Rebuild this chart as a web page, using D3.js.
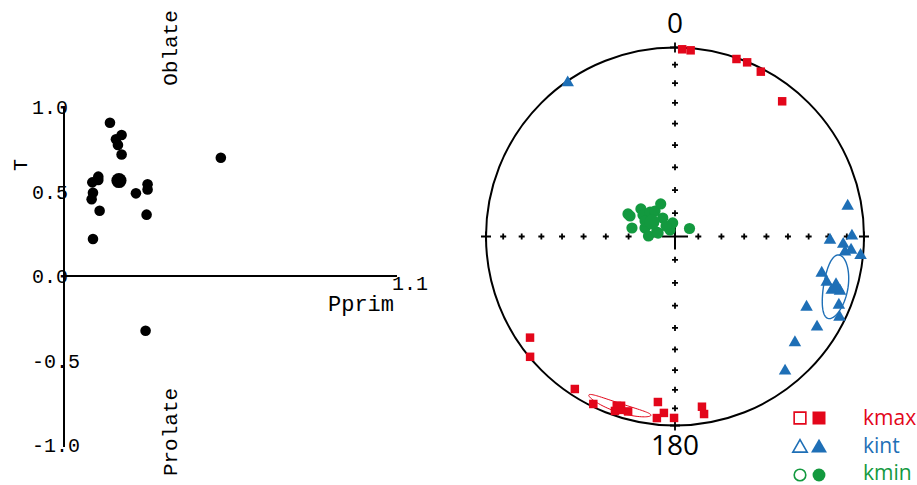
<!DOCTYPE html>
<html>
<head>
<meta charset="utf-8">
<script src="https://cdn.jsdelivr.net/npm/d3@7"></script>
<style>
  body { margin: 0; background: #fff; }
</style>
</head>
<body>
<div id="chart"></div>
<script>
// ---- datos: diagrama de Jelinek (Pprim - T) ----
var pprim  = [1.0138, 1.0156, 1.0173, 1.0162, 1.0173, 1.0471, 1.0085, 1.0103, 1.0103,
              1.0087, 1.0083, 1.0216, 1.0251, 1.0251, 1.0107, 1.0248, 1.0087, 1.0245];
var tShape = [0.907, 0.809, 0.834, 0.775, 0.719, 0.700, 0.554, 0.588, 0.568,
              0.493, 0.454, 0.489, 0.543, 0.512, 0.386, 0.363, 0.219, -0.324];
var pprimMean = 1.0165, tMean = 0.565;
var tTicks = [1.0, 0.5, 0.0, -0.5, -1.0];
var tTickLabels = ["1.0", "0.5", "0.0", "-0.5", "-1.0"];

// ---- datos: estereograma (declinacion / inclinacion, hemisferio inferior) ----
var kmaxDec = [2.2, 4.8, 19.1, 22.5, 27.5, 38.4, 235.1, 230.3, 213.3, 206.0,
               198.9, 199.0, 195.0, 185.9, 183.6, 185.7, 180.3, 171.0, 170.7];
var kmaxInc = [1.0, 1.3, 0.7, 0.3, 1.9, 9.6, 7.2, 0.4, 3.9, 1.6,
               5.9, 2.7, 4.7, 13.0, 7.2, 3.9, 4.5, 9.7, 5.4];
var kintDec = [325.1, 80.0, 91.3, 92.6, 89.8, 95.2, 94.4, 95.8, 104.0, 106.7,
               108.9, 108.3, 112.7, 116.1, 118.2, 122.5, 131.5, 140.7];
var kintInc = [0.9, 8.0, 19.1, 11.9, 7.1, 10.6, 7.3, 1.5, 21.1, 17.3,
               13.4, 8.9, 6.7, 3.5, 22.1, 11.9, 16.4, 8.9];
var kminDec = [295.6, 281.2, 309.0, 294.5, 303.9, 314.4, 321.9, 336.3, 326.4, 350.3,
               322.4, 61.1, 285.8, 271.1, 283.8, 303.7, 281.6, 319.4, 297.3];
var kminInc = [67.5, 71.1, 71.1, 68.7, 73.4, 75.0, 76.1, 74.7, 80.5, 84.1,
               86.5, 82.9, 76.6, 78.6, 81.9, 78.8, 82.6, 84.1, 75.5];
// medias y elipses de confianza [dec, inc, semieje mayor, semieje menor, giro] (grados)
var kmaxMean = [198.1, 5.2, 10.4, 2.6, 0];
var kintMean = [107.4, 11.7, 11, 6.6, -18];
var kminMean = [302.2, 78.3];
var netInc = [10, 20, 30, 40, 50, 60, 70, 80];
var netDec = [0, 90, 180, 270];
var legendNames = ["kmax", "kint", "kmin"];

var red = "#e3061a", blue = "#1e6fb6", green = "#13993f";

var svg = d3.select("#chart")
  .append("svg")
    .attr("width", 917)
    .attr("height", 485);

// ================= Diagrama Pprim - T =================
var x = d3.scaleLinear().domain([1.0, 1.1]).range([64, 397]);
var y = d3.scaleLinear().domain([-1, 1]).range([445, 107]);
var mono = "'Liberation Mono', 'DejaVu Sans Mono', monospace";

var left = svg.append("g");

left.append("line")
  .attr("x1", x(1.0)).attr("x2", x(1.0))
  .attr("y1", y(1) - 1).attr("y2", y(-1) + 2)
  .attr("stroke", "black").attr("stroke-width", 2);
left.append("line")
  .attr("x1", x(1.0)).attr("x2", x(1.1))
  .attr("y1", y(0)).attr("y2", y(0))
  .attr("stroke", "black").attr("stroke-width", 2);

left.selectAll(".tlab")
  .data(tTicks)
  .enter()
  .append("text")
    .attr("x", 32)
    .attr("y", function(d) { return y(d) + 7; })
    .style("font-family", mono)
    .style("font-size", "20px")
    .text(function(d, i) { return tTickLabels[i]; });

left.append("text")
  .attr("x", x(1.1) - 5)
  .attr("y", y(0) + 14)
  .style("font-family", mono)
  .style("font-size", "20px")
  .text("1.1");

left.append("text")
  .attr("x", 328)
  .attr("y", 311)
  .style("font-family", mono)
  .style("font-size", "22px")
  .text("Pprim");

left.append("text")
  .attr("transform", "translate(27,165) rotate(-90)")
  .attr("text-anchor", "middle")
  .style("font-family", mono)
  .style("font-size", "20px")
  .text("T");

left.append("text")
  .attr("transform", "translate(177,48) rotate(-90)")
  .attr("text-anchor", "middle")
  .style("font-family", mono)
  .style("font-size", "21px")
  .text("Oblate");

left.append("text")
  .attr("transform", "translate(177,432) rotate(-90)")
  .attr("text-anchor", "middle")
  .style("font-family", mono)
  .style("font-size", "21px")
  .text("Prolate");

left.selectAll(".dot")
  .data(pprim)
  .enter()
  .append("circle")
    .attr("cx", function(d) { return x(d); })
    .attr("cy", function(d, i) { return y(tShape[i]); })
    .attr("r", 5.3)
    .style("fill", "black");

left.append("circle")
  .attr("cx", x(pprimMean))
  .attr("cy", y(tMean))
  .attr("r", 7.6)
  .style("fill", "black");

// ================= Estereograma (igual area) =================
var cx = 675, cy = 236.5, R = 189;
var sx = d3.scaleLinear().domain([-1, 1]).range([cx - R, cx + R]);
var sy = d3.scaleLinear().domain([-1, 1]).range([cy + R, cy - R]);
var rad = Math.PI / 180;

function toVec(dec, inc) {
  return [Math.cos(inc * rad) * Math.cos(dec * rad),
          Math.cos(inc * rad) * Math.sin(dec * rad),
          Math.sin(inc * rad)];
}
// proyeccion de Schmidt, hemisferio inferior
function project(v) {
  if (v[2] < 0) v = v.map(function(c) { return -c; });
  var k = 1 / Math.sqrt(1 + v[2]);
  return [sx(v[1] * k), sy(v[0] * k)];
}
function pos(dec, inc) { return project(toVec(dec, inc)); }

function ellipse(e) {
  var m = toVec(e[0], e[1]);
  var d = e[0] * rad, i = e[1] * rad, g = e[4] * rad;
  var u0 = [-Math.sin(d), Math.cos(d), 0];
  var v0 = [-Math.sin(i) * Math.cos(d), -Math.sin(i) * Math.sin(d), Math.cos(i)];
  var u = u0.map(function(c, k) { return Math.cos(g) * c + Math.sin(g) * v0[k]; });
  var v = v0.map(function(c, k) { return -Math.sin(g) * u0[k] + Math.cos(g) * c; });
  var a = Math.tan(e[2] * rad), b = Math.tan(e[3] * rad);
  return d3.range(0, 361, 4).map(function(t) {
    var p = m.map(function(c, k) {
      return c + a * Math.cos(t * rad) * u[k] + b * Math.sin(t * rad) * v[k];
    });
    var n = Math.hypot(p[0], p[1], p[2]);
    return project(p.map(function(c) { return c / n; }));
  });
}

var net = svg.append("g");

net.append("circle")
  .attr("cx", sx(0)).attr("cy", sy(0)).attr("r", sx(1) - sx(0))
  .attr("fill", "none").attr("stroke", "black").attr("stroke-width", 2);

// cruces cada 10 grados sobre los diametros
netDec.forEach(function(dd) {
  netInc.concat([0]).forEach(function(ii) {
    var p = pos(dd, ii);
    var s = ii === 0 ? 5 : 3;
    net.append("path")
      .attr("d", "M" + (p[0] - s) + "," + p[1] + "H" + (p[0] + s) +
                 "M" + p[0] + "," + (p[1] - s) + "V" + (p[1] + s))
      .attr("stroke", "black").attr("stroke-width", 1.8);
  });
});
var c0 = pos(0, 90);
net.append("path")
  .attr("d", "M" + (c0[0] - 13) + "," + c0[1] + "H" + (c0[0] + 13) +
             "M" + c0[0] + "," + (c0[1] - 13) + "V" + (c0[1] + 13))
  .attr("stroke", "black").attr("stroke-width", 2);

net.append("text")
  .attr("x", sx(0)).attr("y", 33)
  .attr("text-anchor", "middle")
  .style("font-family", "'Open Sans', sans-serif")
  .style("font-size", "28px")
  .text("0");
net.append("text")
  .attr("x", sx(0)).attr("y", 455)
  .attr("text-anchor", "middle")
  .style("font-family", "'Open Sans', sans-serif")
  .style("font-size", "28px")
  .text("180");

var line = d3.line();

// kmax
var sq = d3.symbol().type(d3.symbolSquare);
net.append("g").selectAll("path")
  .data(kmaxDec)
  .enter()
  .append("path")
    .attr("d", sq.size(72)())
    .attr("transform", function(d, i) { return "translate(" + pos(d, kmaxInc[i]) + ")"; })
    .style("fill", red);
net.append("path")
  .attr("d", sq.size(160)())
  .attr("transform", "translate(" + pos(kmaxMean[0], kmaxMean[1]) + ")")
  .style("fill", red);
net.append("path")
  .attr("d", line(ellipse(kmaxMean)) + "Z")
  .attr("fill", "none").attr("stroke", red).attr("stroke-width", 1);

// kint
var tri = d3.symbol().type(d3.symbolTriangle);
net.append("g").selectAll("path")
  .data(kintDec)
  .enter()
  .append("path")
    .attr("d", tri.size(68)())
    .attr("transform", function(d, i) { return "translate(" + pos(d, kintInc[i]) + ")"; })
    .style("fill", blue);
net.append("path")
  .attr("d", tri.size(120)())
  .attr("transform", "translate(" + pos(kintMean[0], kintMean[1]) + ")")
  .style("fill", blue);
net.append("path")
  .attr("d", line(ellipse(kintMean)) + "Z")
  .attr("fill", "none").attr("stroke", blue).attr("stroke-width", 1.4);

// kmin
net.append("g").selectAll("circle")
  .data(kminDec)
  .enter()
  .append("circle")
    .attr("cx", function(d, i) { return pos(d, kminInc[i])[0]; })
    .attr("cy", function(d, i) { return pos(d, kminInc[i])[1]; })
    .attr("r", 5.6)
    .style("fill", green);
net.append("circle")
  .attr("cx", pos(kminMean[0], kminMean[1])[0])
  .attr("cy", pos(kminMean[0], kminMean[1])[1])
  .attr("r", 7.5)
  .style("fill", green);

// ---- leyenda ----
var legColors = [red, blue, green];
var legY = [418, 448, 475];
var legBase = [425, 453, 480];
var legShapes = [d3.symbolSquare, d3.symbolTriangle, d3.symbolCircle];
var legSizes = [169, 110, 130];
var leg = svg.append("g");
legendNames.forEach(function(name, i) {
  var s = d3.symbol().type(legShapes[i]).size(legSizes[i]);
  leg.append("path")
    .attr("d", s())
    .attr("fill", "white")
    .attr("stroke", legColors[i])
    .attr("stroke-width", 1.8)
    .attr("transform", "translate(800," + legY[i] + ") scale(0.9)");
  leg.append("path")
    .attr("d", s())
    .attr("transform", "translate(819," + legY[i] + ")")
    .attr("fill", legColors[i]);
  leg.append("text")
    .attr("x", 863)
    .attr("y", legBase[i])
    .style("font-family", "'Open Sans', sans-serif")
    .style("font-size", "21px")
    .style("fill", legColors[i])
    .text(name);
});
</script>
</body>
</html>
